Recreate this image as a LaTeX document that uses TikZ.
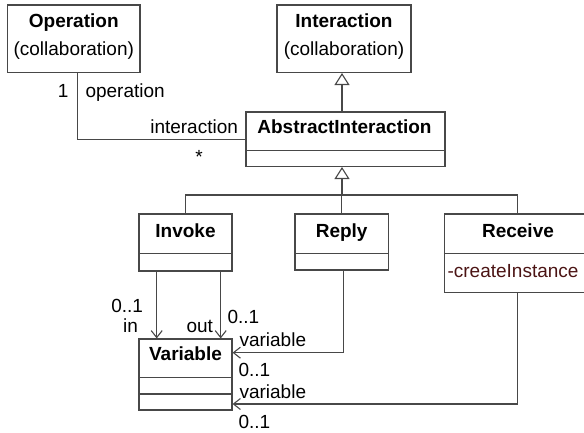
\documentclass[tikz,border=0pt]{standalone}
\usepackage{fontspec}
\setmainfont{Liberation Sans}
\usetikzlibrary{arrows.meta}
\definecolor{lin}{RGB}{72,72,72}
\definecolor{attr}{RGB}{75,20,20}
\begin{document}
\begin{tikzpicture}[x=1pt,y=-1pt,
  line width=1.1pt,
  box/.style={draw=lin, rectangle, inner sep=0pt, line width=1.1pt},
  txt/.style={inner sep=0pt, font=\fontsize{19}{22}\selectfont},
  ttl/.style={txt, anchor=base, font=\fontsize{19}{22}\selectfont\bfseries},
  sep/.style={draw=lin},
  gen/.style={draw=lin, -{Triangle[open, length=12pt, width=15pt, fill=white]}},
  nav/.style={draw=lin, -{Straight Barb[length=7pt, width=11pt]}},
]
\useasboundingbox (0,0) rectangle (584,433);
\clip (0,0) rectangle (584,433);

% boxes
\node[box, minimum width=132.5pt, minimum height=67.5pt] (op) at (73.75,38.75) {};
\node[box, minimum width=134pt, minimum height=67.5pt] (in) at (344,38.75) {};
\node[box, minimum width=199pt, minimum height=54.5pt] (ai) at (345.5,139.25) {};
\node[box, minimum width=93pt, minimum height=57pt] (inv) at (185.5,242.5) {};
\node[box, minimum width=93.3pt, minimum height=56pt] (rep) at (341.65,242) {};
\node[box, minimum width=146pt, minimum height=78.7pt] (rcv) at (517.3,253.35) {};
\node[box, minimum width=93pt, minimum height=71pt] (var) at (185.5,374.5) {};

% compartments
\draw[sep] (ai.west |- 0,150.7) -- (ai.east |- 0,150.7);
\draw[sep] (inv.west |- 0,253.3) -- (inv.east |- 0,253.3);
\draw[sep] (rep.west |- 0,253.3) -- (rep.east |- 0,253.3);
\draw[sep] (rcv.west |- 0,253.3) -- (rcv.east |- 0,253.3);
\draw[sep] (var.west |- 0,377.3) -- (var.east |- 0,377.3);
\draw[sep] (var.west |- 0,394) -- (var.east |- 0,394);

% titles
\node[ttl] (opT) at (73.75,27.3) {Operation};
\node[txt, anchor=base] (opS) at (73.75,56) {(collaboration)};
\node[ttl] (inT) at (344,27.3) {Interaction};
\node[txt, anchor=base] (inS) at (344,56) {(collaboration)};
\node[ttl] (aiT) at (344.5,133.3) {AbstractInteraction};
\node[ttl] (invT) at (185.5,237.3) {Invoke};
\node[ttl] (repT) at (341.65,237.3) {Reply};
\node[ttl] (rcvT) at (518,237.3) {Receive};
\node[txt, anchor=base west, text=attr] (rcvA) at (447,277) {-createInstance};
\node[ttl] (varT) at (185.5,360) {Variable};

% generalizations
\draw[gen] (ai.north -| 342,0) -- (in.south -| 342,0);
\coordinate (tree) at (342,195);
\draw[gen] (tree) -- (ai.south -| tree);
\draw[draw=lin] (inv.north) |- (tree);
\draw[draw=lin] (rep.north) -- (rep.north |- tree);
\draw[draw=lin] (rcv.north) |- (tree);

% association operation - interaction
\draw[draw=lin] ([xshift=3.5pt]op.south) |- (ai.west);

% navigable associations
\draw[nav] (inv.south -| 156.7,0) -- (var.north -| 156.7,0);
\draw[nav] (inv.south -| 220.7,0) -- (var.north -| 220.7,0);
\draw[nav] ([xshift=1.7pt]rep.south) |- (var.east |- 0,352.7);
\draw[nav] (rcv.south) |- (var.east |- 0,404);

% association labels
\node[txt, anchor=base east] (l1) at (69,97.3) {1};
\node[txt, anchor=base west] (lop) at (85,97.3) {operation};
\node[txt, anchor=base east] (lint) at (238.5,133.3) {interaction};
\node[txt, anchor=base] (lstar) at (199,163.5) {*};
\node[txt, anchor=base east] (lin1) at (143.5,312.5) {0..1};
\node[txt, anchor=base east] (lin) at (138.5,332) {in};
\node[txt, anchor=base east] (lout) at (213.5,332) {out};
\node[txt, anchor=base west] (lout1) at (227,323) {0..1};
\node[txt, anchor=base west] (lv1) at (239,346.5) {variable};
\node[txt, anchor=base west] (lv1m) at (238,376.5) {0..1};
\node[txt, anchor=base west] (lv2) at (239,398) {variable};
\node[txt, anchor=base west] (lv2m) at (238,428) {0..1};
\end{tikzpicture}
\end{document}
